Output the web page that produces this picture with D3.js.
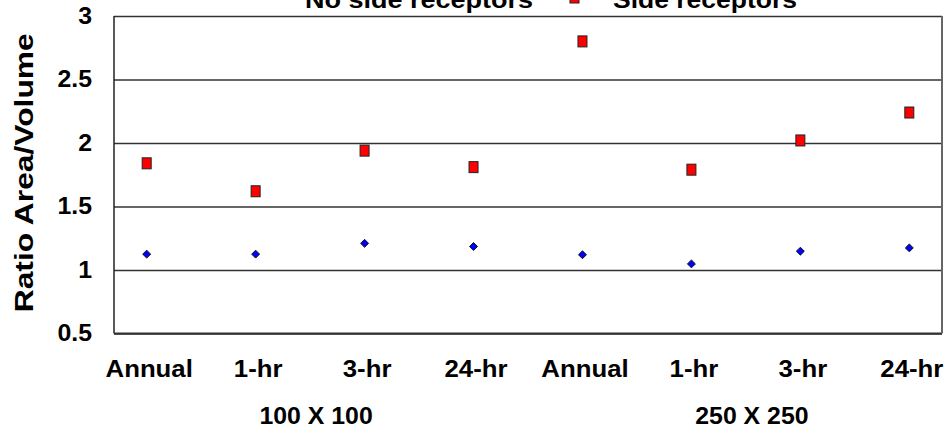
<!DOCTYPE html>
<html>
<head>
<meta charset="utf-8">
<script src="https://cdn.jsdelivr.net/npm/d3@7"></script>
<style>
  body { margin: 0; background: #fff; }
  svg text { font-family: "Liberation Sans", Arial, sans-serif; font-weight: bold; fill: #000; }
</style>
</head>
<body>
<div id="chart"></div>
<script>
// categories along the x axis, grouped by grid size
var categories = ["Annual", "1-hr", "3-hr", "24-hr", "Annual", "1-hr", "3-hr", "24-hr"];
var groups = ["100 X 100", "250 X 250"];
var yTicks = [0.5, 1, 1.5, 2, 2.5, 3];
// ratio area/volume values
var noSide = [1.125, 1.125, 1.21, 1.185, 1.12, 1.048, 1.148, 1.174];
var side = [1.84, 1.62, 1.94, 1.81, 2.80, 1.79, 2.02, 2.24];
var seriesNames = ["No side receptors", "Side receptors"];

var W = 945, H = 430;
var margin = {top: 16, right: 3, bottom: 96.5, left: 114};
var width = W - margin.left - margin.right,
    height = H - margin.top - margin.bottom;

// the original text is a little wider than Arial, stretch it
function widen(sel, f) {
  sel.each(function() {
    var len = this.getComputedTextLength();
    d3.select(this).attr("textLength", len * f).attr("lengthAdjust", "spacingAndGlyphs");
  });
}

var svg = d3.select("#chart").append("svg")
  .attr("width", W)
  .attr("height", H);

var g = svg.append("g")
  .attr("transform", "translate(" + margin.left + "," + margin.top + ")");

var x = d3.scalePoint()
  .domain(d3.range(categories.length))
  .range([0, width])
  .padding(0.3);

var y = d3.scaleLinear()
  .domain([0.5, 3])
  .range([height, 0]);

// gridlines
g.append("g")
  .attr("class", "grid")
  .call(d3.axisLeft(y).tickValues(yTicks).tickSize(-width).tickFormat(""))
  .call(s => s.select(".domain").remove())
  .call(s => s.selectAll("line").attr("stroke", "#333").attr("stroke-width", 1.5));

// plot frame
g.append("line").attr("x1", 0).attr("x2", 0).attr("y1", 0).attr("y2", height)
  .attr("stroke", "#222").attr("stroke-width", 1.5);
g.append("line").attr("x1", 0).attr("x2", width).attr("y1", height).attr("y2", height)
  .attr("stroke", "#333").attr("stroke-width", 2);
g.append("line").attr("x1", width).attr("x2", width).attr("y1", 0).attr("y2", height)
  .attr("stroke", "#666").attr("stroke-width", 2);

// y axis labels
g.append("g")
  .call(d3.axisLeft(y).tickValues(yTicks).tickSize(0).tickPadding(22).tickFormat(d3.format("")))
  .call(s => s.select(".domain").remove())
  .call(s => s.selectAll("text").style("font-size", "23px").call(widen, 1.08));

// x axis labels
g.append("g")
  .attr("transform", "translate(0," + height + ")")
  .call(d3.axisBottom(x).tickSize(0).tickPadding(27).tickFormat(i => categories[i]))
  .call(s => s.select(".domain").remove())
  .call(s => s.selectAll("text").attr("dx", 2).style("font-size", "23px").call(widen, 1.12));

// group labels
g.selectAll(".group")
  .data(groups)
  .enter().append("text")
  .attr("class", "group")
  .attr("x", (d, i) => d3.mean(d3.range(i * 4, i * 4 + 4), k => x(k)) + 6)
  .attr("y", height + 90)
  .attr("text-anchor", "middle")
  .style("font-size", "23px")
  .text(d => d)
  .call(widen, 1.08);

// y axis title
svg.append("text")
  .attr("transform", "translate(33," + (margin.top + height / 2 - 2) + ") rotate(-90)")
  .attr("text-anchor", "middle")
  .style("font-size", "26px")
  .attr("textLength", 279)
  .attr("lengthAdjust", "spacingAndGlyphs")
  .text("Ratio Area/Volume");

// series: no side receptors (blue diamonds)
var diamond = d3.symbol().type(d3.symbolDiamond2).size(40);
g.selectAll(".nside")
  .data(noSide)
  .enter().append("path")
  .attr("class", "nside")
  .attr("d", diamond)
  .attr("transform", (d, i) => "translate(" + x(i) + "," + y(d) + ")")
  .attr("fill", "#0000ff")
  .attr("stroke", "#111")
  .attr("stroke-width", 1);

// series: side receptors (red squares)
g.selectAll(".side")
  .data(side)
  .enter().append("rect")
  .attr("class", "side")
  .attr("x", (d, i) => x(i) - 4.5)
  .attr("y", d => y(d) - 5.5)
  .attr("width", 9)
  .attr("height", 11)
  .attr("fill", "#ff0000")
  .attr("stroke", "#222")
  .attr("stroke-width", 1);

// legend (clipped at the top edge like the original)
var legend = svg.append("g");
legend.append("path")
  .attr("d", diamond)
  .attr("transform", "translate(268,-5)")
  .attr("fill", "#0000ff").attr("stroke", "#111");
legend.append("text")
  .attr("x", 305).attr("y", 8)
  .style("font-size", "23px")
  .attr("textLength", 228)
  .attr("lengthAdjust", "spacingAndGlyphs")
  .text(seriesNames[0]);
legend.append("rect")
  .attr("x", 570).attr("y", -8).attr("width", 9).attr("height", 11)
  .attr("fill", "#ff0000").attr("stroke", "#222");
legend.append("text")
  .attr("x", 613).attr("y", 8)
  .style("font-size", "23px")
  .attr("textLength", 184)
  .attr("lengthAdjust", "spacingAndGlyphs")
  .text(seriesNames[1]);
</script>
</body>
</html>
